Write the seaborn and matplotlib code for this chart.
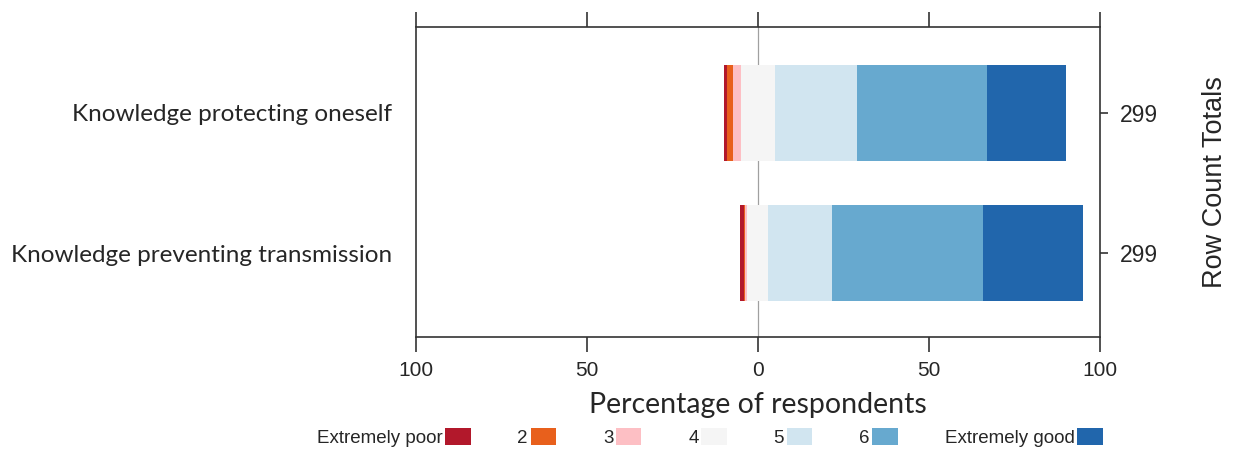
import matplotlib
matplotlib.use("Agg")
import matplotlib.pyplot as plt
import numpy as np
import pandas as pd
import seaborn as sns
from matplotlib.patches import Patch

# ---------------------------------------------------------------------------
# Data (percent of respondents per answer level)
# ---------------------------------------------------------------------------

questions = ["Knowledge protecting oneself", "Knowledge preventing transmission"]
levels = ["Extremely poor", "2", "3", "4", "5", "6", "Extremely good"]

pct_poor = [0.7, 1.0]
pct_2 = [1.9, 0.3]
pct_3 = [2.2, 0.7]
pct_4 = [10.0, 6.2]
pct_5 = [23.9, 18.7]
pct_6 = [38.2, 44.1]
pct_good = [23.1, 29.2]
row_totals = [299, 299]

colors = ["#B2182B", "#E8601C", "#FDBFC4", "#F5F5F5", "#D1E5F0", "#67A9CF", "#2166AC"]

LABEL_FONT = ["Lato", "DejaVu Sans"]
AXIS_FONT = ["Liberation Sans", "DejaVu Sans"]

# ---------------------------------------------------------------------------
# Cumulative stacks from the neutral midpoint
# ---------------------------------------------------------------------------

half = np.array(pct_4) / 2
c3 = half + np.array(pct_3)
c2 = c3 + np.array(pct_2)
cp = c2 + np.array(pct_poor)
c5 = half + np.array(pct_5)
c6 = c5 + np.array(pct_6)
cg = c6 + np.array(pct_good)

# drawn back to front so the shorter bars sit on top
layers = [
    (-cp, colors[0]), (-c2, colors[1]), (-c3, colors[2]), (-half, colors[3]),
    (cg, colors[6]), (c6, colors[5]), (c5, colors[4]), (half, colors[3]),
]

sns.set_theme(style="white")
plt.rcParams["font.family"] = AXIS_FONT

fig = plt.figure(figsize=(12.45, 4.5), dpi=100)
ax = fig.add_axes([0.334, 0.251, 0.5495, 0.689])

ax.axvline(0, color="#A0A0A0", lw=0.9, zorder=0)
for vals, col in layers:
    df = pd.DataFrame({"question": questions, "value": vals})
    sns.barplot(data=df, x="value", y="question", orient="h", color=col,
                saturation=1, width=0.68, errorbar=None, linewidth=0,
                edgecolor="none", ax=ax, zorder=2)

ax.set_xlim(-100, 100)
ax.set_ylim(1.6, -0.614)
ax.set_xticks([-100, -50, 0, 50, 100])
ax.set_xticklabels(["100", "50", "0", "50", "100"], fontsize=15, family=AXIS_FONT)
ax.tick_params(axis="x", which="both", top=True, bottom=True, direction="out",
               length=11, width=1.2, color="#333333", pad=6)
ax.set_yticks([0, 1])
ax.set_yticklabels(questions, fontsize=17.5, family=LABEL_FONT)
ax.tick_params(axis="y", left=False, right=False, length=0, pad=17)
ax.set_ylabel("")
ax.set_xlabel("Percentage of respondents", fontsize=20.5, family=LABEL_FONT, labelpad=9)
for sp in ax.spines.values():
    sp.set_visible(True)
    sp.set_color("#333333")
    sp.set_linewidth(1.2)

# right-hand totals
ax2 = ax.twinx()
ax2.set_ylim(ax.get_ylim())
ax2.set_yticks([0, 1])
ax2.set_yticklabels([str(t) for t in row_totals], fontsize=16.5, family=AXIS_FONT)
ax2.tick_params(axis="y", left=False, right=True, direction="out", length=6, width=1.2,
                color="#333333", pad=8)
ax2.set_ylabel("Row Count Totals", fontsize=19.5, family=AXIS_FONT, labelpad=32)
for sp in ax2.spines.values():
    sp.set_visible(False)

handles = [Patch(facecolor=c, edgecolor="none") for c in colors]
fig.legend(handles, levels, loc="center", bbox_to_anchor=(0.570, 0.027), ncol=7,
           frameon=False, markerfirst=False, prop={"family": AXIS_FONT, "size": 13.5},
           handlelength=1.35, handleheight=1.0, handletextpad=0.15, columnspacing=2.5)

fig.savefig("out.png", dpi=100)
